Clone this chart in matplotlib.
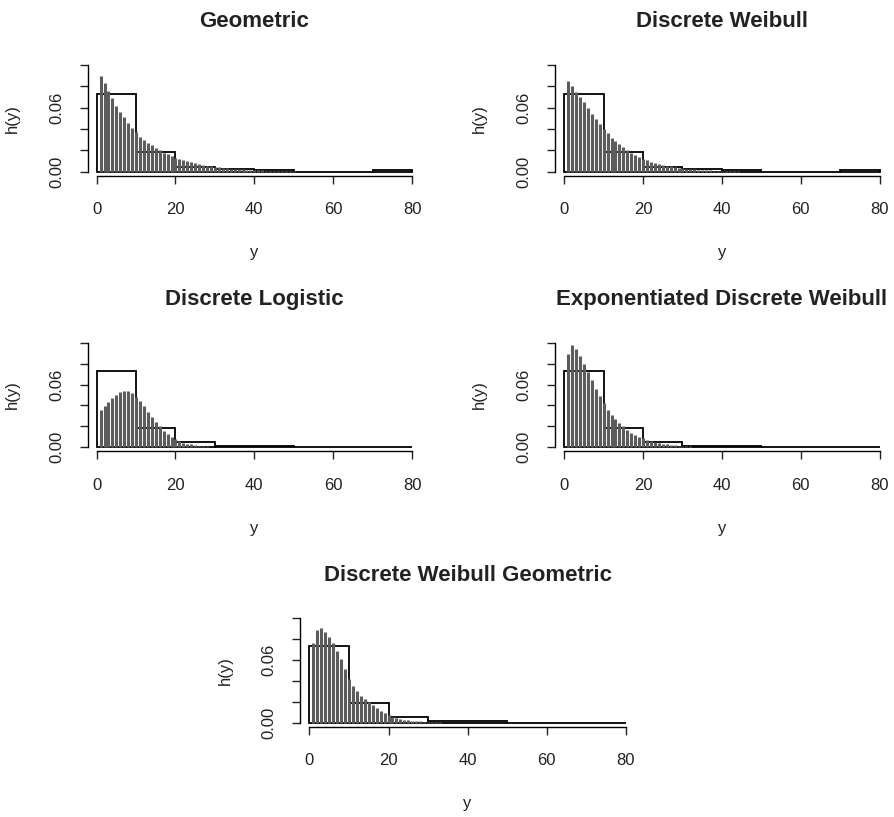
import numpy as np
import matplotlib
matplotlib.use("Agg")
import matplotlib.pyplot as plt

plt.rcParams['font.family'] = ['Liberation Sans', 'DejaVu Sans']

# observed histogram (density scale)
top_edges = [0, 10, 20, 30, 40, 50, 70, 80]
top_dens = [0.0725, 0.0185, 0.0045, 0.0025, 0.0012, 0.0, 0.0015]
low_edges = [0, 10, 20, 30, 50, 80]
low_dens = [0.073, 0.0185, 0.005, 0.0012, 0.0]

# fitted probability mass functions, y = 1, 2, ...
geometric = [0.090, 0.083, 0.076, 0.069, 0.062, 0.056, 0.051, 0.046, 0.041, 0.037,
             0.033, 0.030, 0.027, 0.025, 0.022, 0.020, 0.018, 0.017, 0.015, 0.013,
             0.012, 0.011, 0.010, 0.009, 0.008, 0.0072, 0.0065, 0.0058, 0.0052, 0.0047,
             0.0042, 0.0038, 0.0034, 0.0030, 0.0027, 0.0024, 0.0021, 0.0019, 0.0017, 0.0015,
             0.0013, 0.0012, 0.0010, 0.0009, 0.0008, 0.0007, 0.0006, 0.0005, 0.0004, 0.0003]
weibull = [0.085, 0.080, 0.075, 0.070, 0.065, 0.060, 0.054, 0.049, 0.045, 0.040,
           0.036, 0.032, 0.029, 0.026, 0.023, 0.020, 0.018, 0.016, 0.014, 0.012,
           0.011, 0.0095, 0.0085, 0.0075, 0.0065, 0.0057, 0.0050, 0.0044, 0.0038, 0.0033,
           0.0029, 0.0025, 0.0022, 0.0019, 0.0016, 0.0014, 0.0012, 0.0010, 0.0008, 0.0007,
           0.0006, 0.0005, 0.0004, 0.0003, 0.0002]
logistic = [0.036, 0.039, 0.043, 0.047, 0.050, 0.053, 0.054, 0.054, 0.052, 0.048,
            0.044, 0.039, 0.034, 0.029, 0.024, 0.020, 0.016, 0.013, 0.010, 0.008,
            0.006, 0.0045, 0.0035, 0.0027, 0.0020, 0.0015, 0.0011, 0.0008, 0.0006, 0.0004]
exp_weibull = [0.089, 0.098, 0.094, 0.087, 0.080, 0.072, 0.064, 0.056, 0.049, 0.042,
               0.036, 0.031, 0.027, 0.023, 0.020, 0.017, 0.014, 0.012, 0.010, 0.0085,
               0.0070, 0.0060, 0.0050, 0.0042, 0.0035, 0.0030, 0.0025, 0.0020, 0.0017, 0.0014,
               0.0011, 0.0009, 0.0007, 0.0006, 0.0005, 0.0004]
weibull_geom = [0.076, 0.089, 0.091, 0.087, 0.082, 0.076, 0.069, 0.061, 0.051, 0.042,
                0.035, 0.030, 0.026, 0.023, 0.020, 0.017, 0.014, 0.011, 0.009, 0.007,
                0.0055, 0.0045, 0.0036, 0.0030, 0.0024, 0.0020, 0.0016, 0.0012, 0.0010, 0.0008,
                0.0006, 0.0005, 0.0004]

titles = ["Geometric", "Discrete Weibull", "Discrete Logistic",
          "Exponentiated Discrete Weibull", "Discrete Weibull Geometric"]
pmfs = [geometric, weibull, logistic, exp_weibull, weibull_geom]
hists = [(top_edges, top_dens), (top_edges, top_dens), (low_edges, low_dens),
         (low_edges, low_dens), (low_edges, low_dens)]

# axes boxes in figure fraction: left, bottom, width, height
boxes = [
    [0.094, 0.7846, 0.381, 0.141],
    [0.617, 0.7846, 0.381, 0.141],
    [0.094, 0.4474, 0.381, 0.1383],
    [0.617, 0.4474, 0.381, 0.1383],
    [0.332, 0.1103, 0.382, 0.1382],
]

fig = plt.figure(figsize=(8.94, 8.17), dpi=100)

for title, pmf, (edges, dens), box in zip(titles, pmfs, hists, boxes):
    ax = fig.add_axes(box)
    ys = np.arange(1, len(pmf) + 1)
    ax.vlines(ys, 0, pmf, color='#5c5c5c', lw=2.2)
    ax.bar(edges[:-1], dens, width=np.diff(edges), align='edge',
           fill=False, edgecolor='black', lw=1.3)

    ax.set_xlim(-3.2, 83.2)
    ax.set_ylim(-0.004, 0.104)
    for s in ['top', 'right']:
        ax.spines[s].set_visible(False)
    ax.spines['bottom'].set_bounds(0, 80)
    ax.spines['left'].set_bounds(0, 0.10)
    ax.spines['left'].set_position(('data', -2.3))
    for s in ['bottom', 'left']:
        ax.spines[s].set_linewidth(1.0)

    ax.set_xticks([0, 20, 40, 60, 80])
    ax.set_yticks([0, 0.02, 0.04, 0.06, 0.08, 0.10])
    ax.set_yticklabels(['0.00', '', '', '0.06', '', ''], rotation=90, va='center')
    ax.tick_params(axis='both', direction='out', length=6, width=1.0,
                   labelsize=12, colors='#222222')
    ax.tick_params(axis='x', pad=13)
    ax.tick_params(axis='y', pad=11)

    ax.set_xlabel('y', fontsize=12, labelpad=20, color='#222222')
    ax.set_ylabel('h(y)', fontsize=12, labelpad=21, color='#222222')
    ax.set_title(title, fontsize=16, fontweight='bold', pad=24, color='#222222')

fig.savefig('out.png', dpi=100)
